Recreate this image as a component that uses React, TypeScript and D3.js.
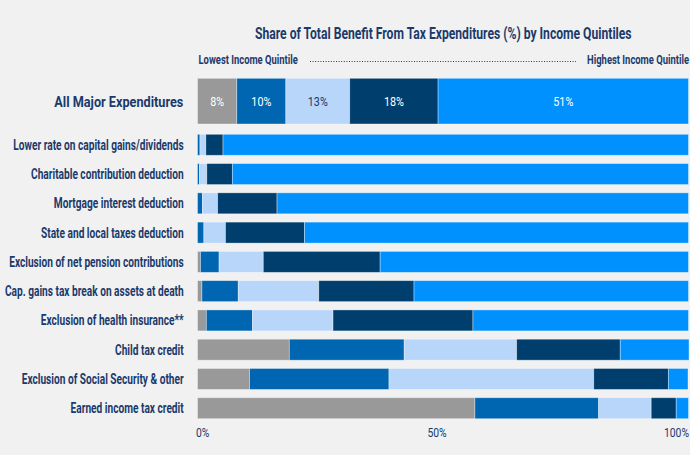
import React, { useLayoutEffect, useRef, useState } from "react";
import * as d3 from "d3";

const categories = [
  "All Major Expenditures",
  "Lower rate on capital gains/dividends",
  "Charitable contribution deduction",
  "Mortgage interest deduction",
  "State and local taxes deduction",
  "Exclusion of net pension contributions",
  "Cap. gains tax break on assets at death",
  "Exclusion of health insurance**",
  "Child tax credit",
  "Exclusion of Social Security & other",
  "Earned income tax credit",
];

const quintileNames = ["Lowest", "Second", "Middle", "Fourth", "Highest"];
const lowest = [8, 0, 0, 0, 0, 0.6, 0.9, 1.8, 18.7, 10.6, 56.5];
const second = [10, 0.5, 0.4, 1.0, 1.3, 3.8, 7.4, 9.4, 23.4, 28.4, 25.2];
const middle = [13, 1.2, 1.5, 3.1, 4.4, 9.0, 16.4, 16.4, 22.9, 41.7, 10.7];
const fourth = [18, 3.5, 5.2, 12.1, 16.1, 23.8, 19.4, 28.5, 21.1, 15.2, 5.1];
const highest = [51, 94.8, 92.9, 83.8, 78.2, 62.8, 55.9, 43.9, 14.0, 4.0, 2.5];

const axisTicks = [0, 50, 100];
const titleText = "Share of Total Benefit From Tax Expenditures (%) by Income Quintiles";
const lowLabel = "Lowest Income Quintile";
const highLabel = "Highest Income Quintile";

const colors = ["#999999", "#0066b2", "#b8d5fa", "#003e6e", "#0091ff"];
const labelColors = ["#ffffff", "#ffffff", "#1b3a6b", "#ffffff", "#ffffff"];

const TEXT = "#1b3a6b";
const FONT = "Roboto, 'Noto Sans', sans-serif";

type Spec = { key: string; text: string; fs: number; fw: number; target: number; fallback: number };
const specs: Spec[] = [
  { key: "title", text: titleText, fs: 16, fw: 700, target: 377, fallback: 0.72 },
  { key: "low", text: lowLabel, fs: 12, fw: 700, target: 99.5, fallback: 0.75 },
  { key: "high", text: highLabel, fs: 12, fw: 700, target: 102, fallback: 0.75 },
  { key: "major", text: categories[0], fs: 15.5, fw: 700, target: 129, fallback: 0.75 },
  { key: "row", text: categories[1], fs: 14, fw: 700, target: 170.5, fallback: 0.75 },
  { key: "num", text: "10%", fs: 13.5, fw: 400, target: 20, fallback: 0.8 },
];

export default function App() {
  const W = 690;
  const H = 455;
  const x = d3.scaleLinear().domain([0, 100]).range([197.5, 688.5]);
  const series = [lowest, second, middle, fourth, highest];
  const table = categories.map((c, i) => {
    const row: any = { category: c };
    quintileNames.forEach((q, j) => (row[q] = series[j][i]));
    return row;
  });
  const stack = d3.stack<any>().keys(quintileNames)(table);

  const rest = categories.slice(1);
  const step = 29.27;
  const yBand = d3
    .scaleBand()
    .domain(rest)
    .range([130.16, 130.16 + rest.length * step])
    .paddingInner(0.283)
    .paddingOuter(0.1415);

  const yTop = (i: number) => (i === 0 ? 78.3 : (yBand(categories[i]) as number));
  const hOf = (i: number) => (i === 0 ? 45.7 : yBand.bandwidth());

  const measG = useRef<SVGGElement>(null);
  const [scales, setScales] = useState<Record<string, number> | null>(null);
  useLayoutEffect(() => {
    if (scales || !measG.current) return;
    const out: Record<string, number> = {};
    const nodes = measG.current.querySelectorAll("text");
    nodes.forEach((n, i) => {
      const len = (n as SVGTextElement).getComputedTextLength();
      out[specs[i].key] = len > 0 ? specs[i].target / len : specs[i].fallback;
    });
    setScales(out);
  }, [scales]);

  const s = (k: string) => (scales ? scales[k] : specs.find((p) => p.key === k)!.fallback);
  const spec = (k: string) => specs.find((p) => p.key === k)!;

  return (
    <svg
      width={W}
      height={H}
      style={{ position: "absolute", left: 0, top: 0, background: "#f1f1f1" }}
      fontFamily={FONT}
    >
      <rect x={0} y={0} width={W} height={H} fill="#f1f1f1" />
      {!scales && (
        <g ref={measG} opacity={0}>
          {specs.map((p) => (
            <text key={p.key} x={10} y={20} fontSize={p.fs} fontWeight={p.fw}>
              {p.text}
            </text>
          ))}
        </g>
      )}

      <text
        transform={`translate(255,39) scale(${s("title")},1)`}
        fontSize={spec("title").fs}
        fontWeight={700}
        fill={TEXT}
      >
        {titleText}
      </text>
      <text
        transform={`translate(198.5,63.5) scale(${s("low")},1)`}
        fontSize={spec("low").fs}
        fontWeight={700}
        fill={TEXT}
      >
        {lowLabel}
      </text>
      <line x1={310} x2={576} y1={61.5} y2={61.5} stroke={TEXT} strokeWidth={1.2} strokeDasharray="1 1.6" />
      <text
        transform={`translate(689,63.5) scale(${s("high")},1)`}
        textAnchor="end"
        fontSize={spec("high").fs}
        fontWeight={700}
        fill={TEXT}
      >
        {highLabel}
      </text>

      {stack.map((st, j) => (
        <g key={quintileNames[j]} fill={colors[j]}>
          {st.map((d, i) => {
            const w = x(d[1]) - x(d[0]);
            if (w <= 0) return null;
            return (
              <rect
                key={i}
                x={x(d[0])}
                y={yTop(i)}
                width={w}
                height={hOf(i)}
                stroke="#ffffff"
                strokeOpacity={0.45}
                strokeWidth={0.8}
              />
            );
          })}
        </g>
      ))}

      {stack.map((st, j) => {
        const d = st[0];
        const cx = (x(d[0]) + x(d[1])) / 2;
        const cy = yTop(0) + hOf(0) / 2;
        return (
          <text
            key={"lab" + j}
            transform={`translate(${cx},${cy}) scale(${s("num")},1)`}
            dy="0.36em"
            textAnchor="middle"
            fontSize={spec("num").fs}
            fill={labelColors[j]}
          >
            {`${series[j][0]}%`}
          </text>
        );
      })}

      {categories.map((c, i) =>
        i === 0 ? (
          <text
            key={c}
            transform={`translate(183.3,${yTop(i) + hOf(i) / 2}) scale(${s("major")},1)`}
            dy="0.36em"
            textAnchor="end"
            fontSize={spec("major").fs}
            fontWeight={700}
            fill={TEXT}
          >
            {c}
          </text>
        ) : (
          <text
            key={c}
            transform={`translate(183.7,${yTop(i) + hOf(i) / 2}) scale(${s("row")},1)`}
            dy="0.36em"
            textAnchor="end"
            fontSize={spec("row").fs}
            fontWeight={700}
            fill={TEXT}
          >
            {c}
          </text>
        )
      )}

      {axisTicks.map((t, k) => (
        <text
          key={t}
          transform={`translate(${x(t) + (k === 0 ? -1.5 : k === 1 ? -6 : 0.5)},437) scale(${s("num")},1)`}
          textAnchor={k === 0 ? "start" : k === 1 ? "middle" : "end"}
          fontSize={13}
          fill={TEXT}
        >
          {`${t}%`}
        </text>
      ))}
    </svg>
  );
}
